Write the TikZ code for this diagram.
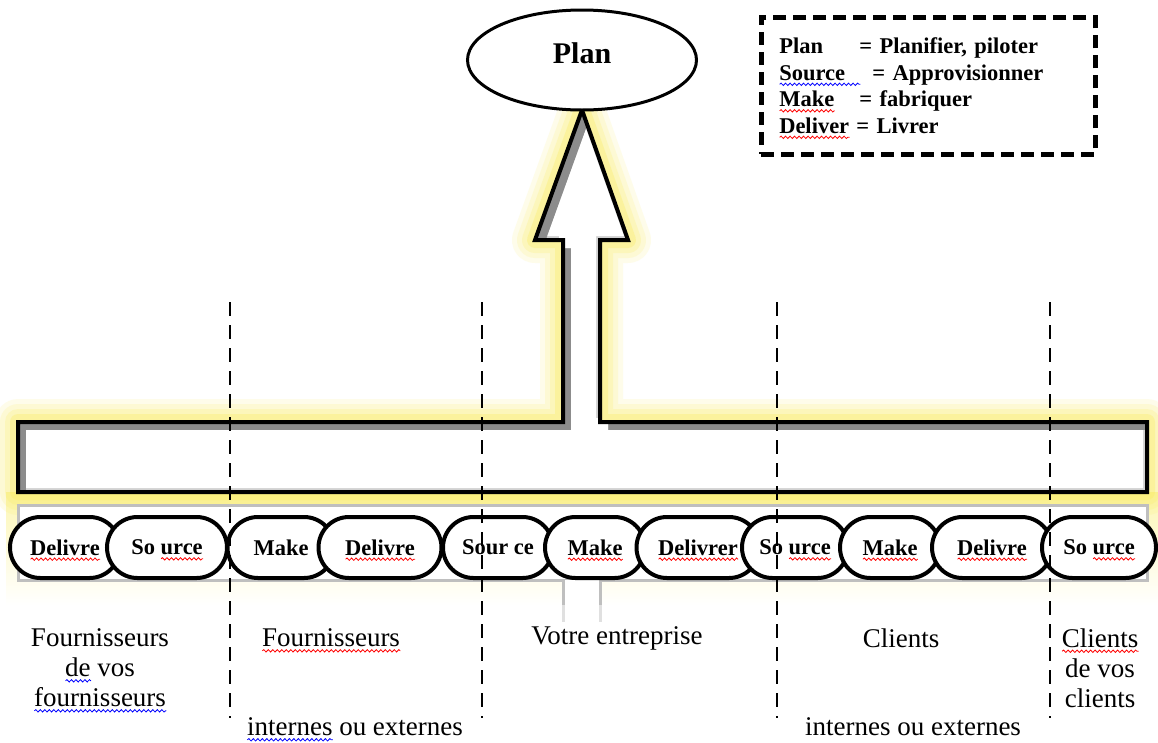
\documentclass[tikz,border=0pt]{standalone}
\usepackage{fontspec}
\setmainfont{Liberation Serif}
\usetikzlibrary{shapes.misc,shapes.geometric,decorations.pathmorphing}

\definecolor{glow}{RGB}{250,236,90}

% spell-check style wavy underlines
\newsavebox\wavebox
\newlength\wavelen
\newcommand\wavy[2]{%
  \sbox\wavebox{#2}\setlength\wavelen{\wd\wavebox}%
  \rlap{\smash{\tikz[baseline=0pt]{\draw[#1, solid, line width=0.8pt,
      decorate, decoration={snake, amplitude=1.2pt, segment length=4.5pt}]
      (0pt,-4pt) -- (\the\wavelen,-4pt);}}}%
  \usebox\wavebox}
\newcommand\redwave[1]{\wavy{red}{#1}}
\newcommand\bluewave[1]{\wavy{blue}{#1}}

% outline of the T-shaped arrow (bar + upward arrow)
\def\Tshape{(18,422) -- (563,422) -- (563,240) -- (535,240) -- (582,110) -- (628,240) -- (600,240) -- (600,422) -- (1147,422) -- (1147,492) -- (18,492) -- cycle}

\tikzset{
  pill/.style={rounded rectangle, draw, line width=4, fill=white,
    minimum height=61, inner sep=0,
    font=\fontsize{22.5}{26}\selectfont\bfseries},
  lbl/.style={font=\fontsize{27}{30}\selectfont, align=center, inner sep=0},
  vdash/.style={line width=2.8, dash pattern=on 14 off 9},
}

\begin{document}
\begin{tikzpicture}[x=1pt,y=-1pt]
\useasboundingbox (0,0) rectangle (1158,742);
\fill[white] (0,0) rectangle (1158,742);

% soft glow under the bar
\shade[top color=glow!45, bottom color=white] (6,492) rectangle (1158,605);

% yellow glow around the arrow
\foreach \w/\o in {46/0.12, 36/0.15, 26/0.2, 16/0.3}
  \draw[glow, line width=\w, opacity=\o, line join=round] \Tshape;

% reflection of the bar and stem
\draw[black!25, line width=3, fill=white] (18,505) rectangle (1147,580);
\fill[white] (563,580) rectangle (600,622);
\draw[black!25, line width=3] (563,580) -- (563,605);
\draw[black!12, line width=3] (563,605) -- (563,622);
\draw[black!25, line width=3] (600,580) -- (600,605);
\draw[black!12, line width=3] (600,605) -- (600,622);

% bevelled body of the arrow
\begin{scope}
  \clip \Tshape;
  \fill[black!45] (0,0) rectangle (1158,742);
  \begin{scope}[shift={(8,8)}]
    \fill[black!18] \Tshape;
    \clip \Tshape;
    \fill[white, shift={(-12,-12)}] \Tshape;
  \end{scope}
\end{scope}
\draw[line width=4, line join=miter] \Tshape;

% Plan ellipse
\node[ellipse, draw, line width=3, fill=white, minimum width=229, minimum height=100, inner sep=0] (plan) at (582,60) {};
\node[font=\fontsize{30}{34}\selectfont\bfseries, inner sep=0] (plantxt) at (582,53) {Plan};

% legend
\node[draw, line width=4.5, dash pattern=on 13 off 7, anchor=north west,
      minimum width=334, minimum height=137, inner xsep=18, text width=298,
      align=left, font=\fontsize{22.5}{26.5}\selectfont\bfseries] (legend) at (759,15)
  {\makebox[80pt][l]{Plan}= Planifier, piloter\\
   \makebox[93pt][l]{\bluewave{Source\ \ }}= Approvisionner\\
   \makebox[80pt][l]{\redwave{Make}}= fabriquer\\
   \makebox[77pt][l]{\redwave{Deliver}}= Livrer};

% process steps
\node[pill, minimum width=110] (p1)  at (65,547.5)   {\redwave{Delivre}};
\node[pill, minimum width=120] (p2)  at (167,547.5)  {So \redwave{urce}};
\node[pill, minimum width=107] (p3)  at (281,547.5)  {Make};
\node[pill, minimum width=123] (p4)  at (380,547.5)  {\redwave{Delivre}};
\node[pill, minimum width=110] (p5)  at (498,547.5)  {Sour ce};
\node[pill, minimum width=100] (p6)  at (595,547.5)  {\redwave{Make}};
\node[pill, minimum width=123] (p7)  at (698,547.5)  {\redwave{Delivrer}};
\node[pill, minimum width=106] (p8)  at (795,547.5)  {So \redwave{urce}};
\node[pill, minimum width=100] (p9)  at (890,547.5)  {\redwave{Make}};
\node[pill, minimum width=120] (p10) at (992,547.5)  {\redwave{Delivre}};
\node[pill, minimum width=114] (p11) at (1099,547.5) {So \redwave{urce}};

% zone captions
\node[lbl] (z1) at (100,668) {Fournisseurs\\ \bluewave{de} vos\\ \bluewave{fournisseurs}};
\node[lbl] (z2) at (331,638) {\redwave{Fournisseurs}};
\node[lbl] (z2b) at (355,727) {\bluewave{internes} ou externes};
\node[lbl] (z3) at (617,638) {Votre entreprise};
\node[lbl] (z4) at (901,638) {Clients};
\node[lbl] (z4b) at (913,727) {internes ou externes};
\node[lbl] (z5) at (1100,668) {\redwave{Clients}\\ de vos\\ clients};

% zone boundaries
\foreach \x in {230,482,777,1050}
  \draw[vdash] (\x,302) -- (\x,718);
\end{tikzpicture}
\end{document}
